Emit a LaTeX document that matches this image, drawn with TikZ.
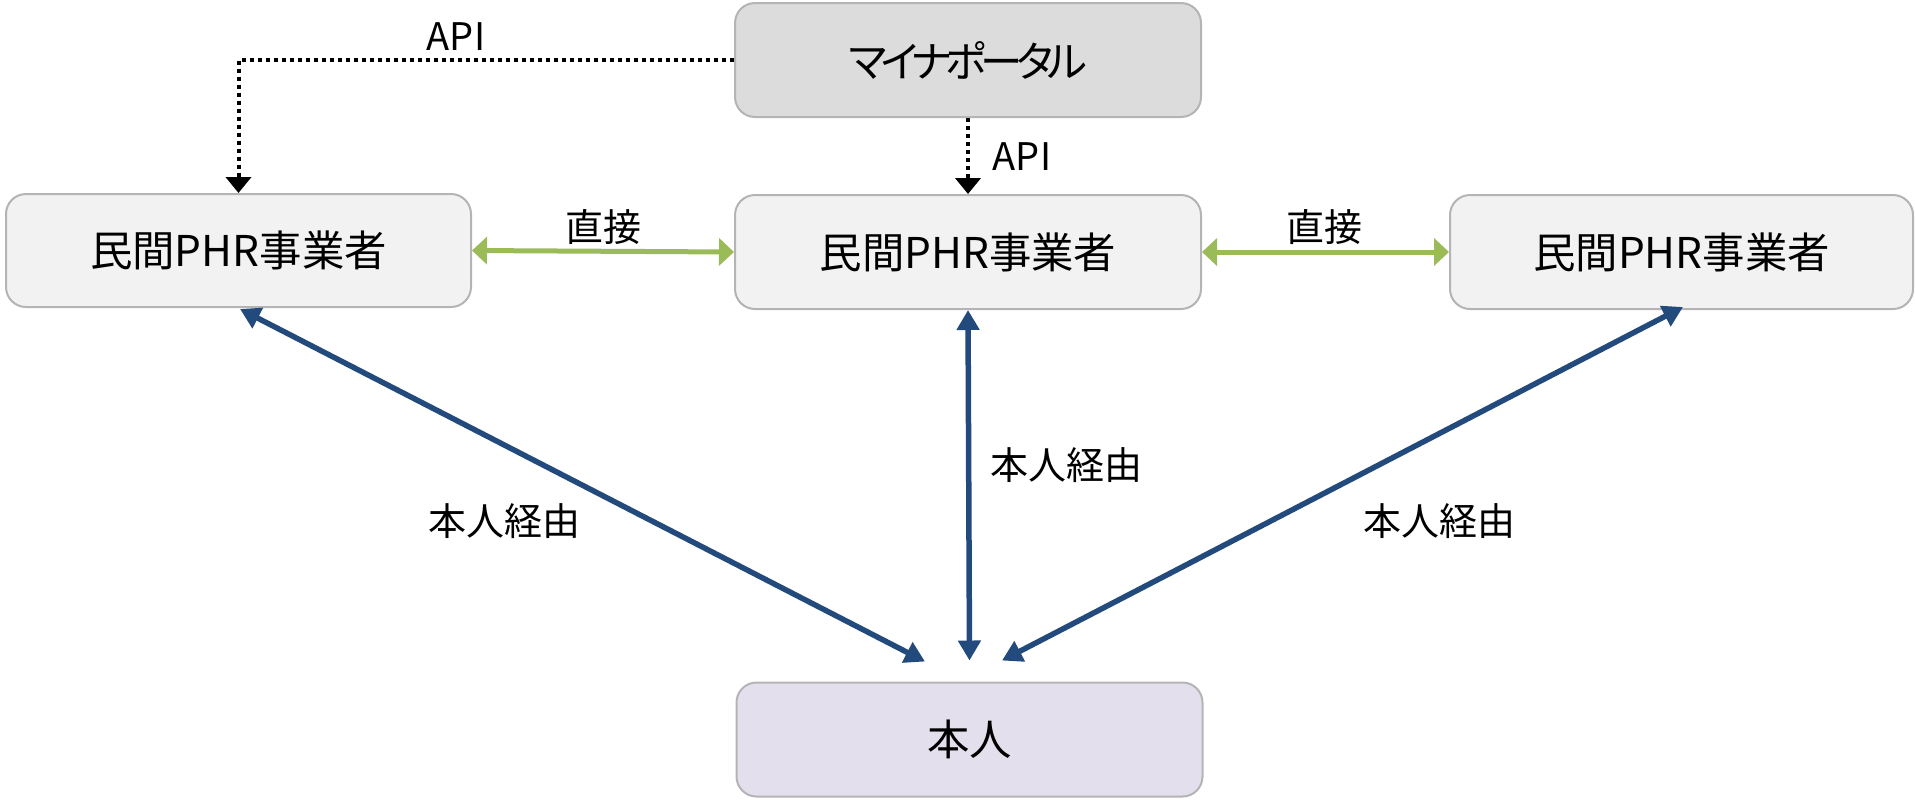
\documentclass[tikz,border=0pt]{standalone}
\usepackage{fontspec}
\setmainfont{Noto Sans CJK JP}
\newfontfamily\jpp[RawFeature=+palt,LetterSpace=-14]{Noto Sans CJK JP}
\usetikzlibrary{arrows.meta,calc}
\definecolor{boxline}{HTML}{B4B4B4}
\definecolor{mpfill}{HTML}{DCDCDC}
\definecolor{phrfill}{HTML}{F2F2F2}
\definecolor{mefill}{HTML}{E4DFEC}
\definecolor{bluearrow}{HTML}{234A7C}
\definecolor{greenarrow}{HTML}{9BBB59}
\tikzset{
  box/.style={draw=boxline, line width=1pt, rounded corners=10pt, minimum width=233pt, minimum height=57pt, inner sep=0pt, font=\fontsize{21.2}{25}\selectfont},
  lbl/.style={font=\fontsize{19}{23}\selectfont, inner sep=0pt},
  apiarrow/.style={line width=2pt, dash pattern=on 2pt off 2pt, -{Triangle[length=8pt,width=12.5pt]}},
  direct/.style={greenarrow, line width=2.5pt, {Triangle[length=7.5pt,width=13.5pt]}-{Triangle[length=7.5pt,width=13.5pt]}},
  via/.style={bluearrow, line width=2.75pt, {Triangle[length=10pt,width=11pt]}-{Triangle[length=10pt,width=11pt]}}
}
\begin{document}
\begin{tikzpicture}[x=0.5pt,y=-0.5pt]
\useasboundingbox (0,0) rectangle (1915,800);
\node[box, fill=mpfill] (mp) at (968,60) {\jpp マイナポータル};
\node[box, fill=phrfill, minimum width=232.5pt, minimum height=56.5pt] (lphr) at (238.5,250.5) {民間PHR事業者};
\node[box, fill=phrfill] (cphr) at (968,252) {民間PHR事業者};
\node[box, fill=phrfill, minimum width=231.5pt] (rphr) at (1681.5,252) {民間PHR事業者};
\node[box, fill=mefill] (me) at (969.5,739.5) {本人};
% API arrows
\draw[apiarrow] (mp.west) -| (lphr.north);
\draw[apiarrow] (mp.south) -- (cphr.north);
\node[lbl] (api1) at (456,37) {API};
\node[lbl] (api2) at (1022,157) {API};
% direct
\draw[direct] (lphr.east) -- (cphr.west);
\draw[direct] (cphr.east) -- (rphr.west);
\node[lbl] (d1) at (603,227) {直接};
\node[lbl] (d2) at (1324,227) {直接};
% via self
\coordinate (tl) at ($(me.north)+(-44.5,-20)$);
\coordinate (tc) at ($(me.north)+(0,-21)$);
\coordinate (tr) at ($(me.north)+(32.5,-21)$);
\draw[via] ($(lphr.south)+(1.5,1)$) -- (tl);
\draw[via] (cphr.south) -- (tc);
\draw[via] ($(rphr.south)+(1.5,-3)$) -- (tr);
\node[lbl] (v1) at (504,521) {本人経由};
\node[lbl] (v2) at (1066,465) {本人経由};
\node[lbl] (v3) at (1439,521) {本人経由};
\end{tikzpicture}
\end{document}
